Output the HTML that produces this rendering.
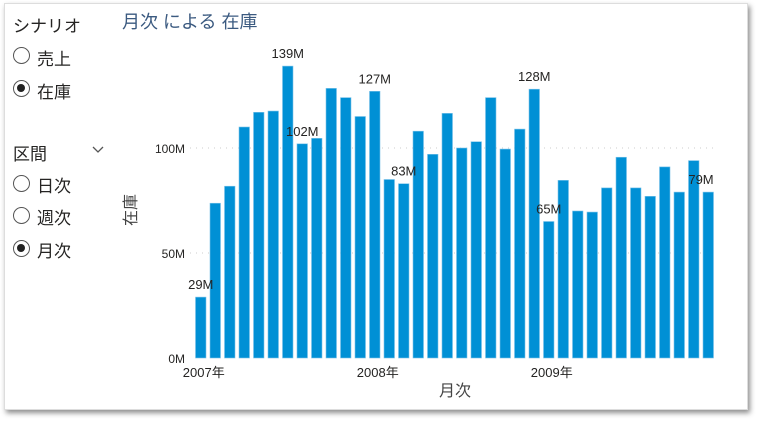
<!DOCTYPE html>
<html><head><meta charset="utf-8"><style>
body{margin:0;width:761px;height:423px;background:#fff;font-family:"Liberation Sans","Noto Sans CJK JP",sans-serif;overflow:hidden;position:relative}
.frame{position:absolute;left:4px;top:3px;width:742px;height:405px;background:#fff;box-shadow:2px 3px 5px rgba(0,0,0,.45);border:1px solid #ddd}
.t{position:absolute;font-size:16px;color:#252423}
.r{position:absolute;width:17px;height:17px;border:1.5px solid #555;border-radius:50%;box-sizing:border-box}
.r.on::after{content:"";position:absolute;left:3px;top:3px;width:8px;height:8px;border-radius:50%;background:#222}
</style></head><body>
<div class="frame"></div>
<div class="t" style="left:13px;top:12px;font-size:17px">シナリオ</div>
<div class="r" style="left:13px;top:47px"></div>
<div class="t" style="left:37px;top:45px;font-size:17px">売上</div>
<div class="r on" style="left:13px;top:80px"></div>
<div class="t" style="left:37px;top:78px;font-size:17px">在庫</div>
<div class="t" style="left:13px;top:140px;font-size:17px">区間</div>
<svg style="position:absolute;left:92px;top:146px" width="12" height="8"><path d="M1 1 L6 6 L11 1" fill="none" stroke="#555" stroke-width="1.3"/></svg>
<div class="r" style="left:13px;top:175px"></div>
<div class="t" style="left:37px;top:172px;font-size:17px">日次</div>
<div class="r" style="left:13px;top:207px"></div>
<div class="t" style="left:37px;top:204px;font-size:17px">週次</div>
<div class="r on" style="left:13px;top:240px"></div>
<div class="t" style="left:37px;top:237px;font-size:17px">月次</div>
<div class="t" style="left:122px;top:8px;font-size:18px;color:#3b5a80">月次 による 在庫</div>
<svg id="c" style="position:absolute;left:0;top:0" width="761" height="423"></svg>
<script>
const values=[29,73.7,81.8,110,117,117.6,139,102,104.6,128.4,124,115,127,85,83,108,97,116.5,100,103,124,99.5,109,128,65,84.6,70,69.5,81,95.6,81,77,91,79,94,79];
const labelIdx=[0,6,7,12,14,23,24,35];
const yTicks=[0,50,100];
const yTickLabels=["0M","50M","100M"];
const xLabels=[{i:0,t:"2007年"},{i:12,t:"2008年"},{i:24,t:"2009年"}];
const svg=document.getElementById('c');const NS="http://www.w3.org/2000/svg";
const x0=195.5,band=14.5,bw=10.5,yBase=358,k=2.1,right=713;
const y=v=>yBase-v*k, x=i=>x0+i*band;
function el(t,a,txt){const e=document.createElementNS(NS,t);for(const q in a)e.setAttribute(q,a[q]);if(txt!=null)e.textContent=txt;svg.appendChild(e);return e;}
yTicks.forEach((v,j)=>{
 if(v>0){const g=el('line',{x1:190,x2:right,y1:y(v),y2:y(v),stroke:'#ccc','stroke-dasharray':'1 5'});
 
 }
 const t=el('text',{x:185,y:y(v)+5,'text-anchor':'end','font-size':12,fill:'#252423'},yTickLabels[j]);
 
 
});
values.forEach((v,i)=>{
 const r=el('rect',{x:x(i),y:y(v),width:bw,height:v*k,fill:'#0090d5',stroke:'#7cc4ea','stroke-width':0.6});
 
 
});
labelIdx.forEach(i=>{
 let cx=x(i)+bw/2;const w=28;if(cx+w/2>right)cx=right-w/2+2;
 const t=el('text',{x:cx,y:y(values[i])-8,'text-anchor':'middle','font-size':13,fill:'#252423'},Math.round(values[i])+'M');
 
 
});
xLabels.forEach(o=>{
 const t=el('text',{x:x(o.i)+bw/2+3,y:377,'text-anchor':'middle','font-size':13,fill:'#252423'},o.t);
 
 
});
const xt=el('text',{x:455,y:396,'text-anchor':'middle','font-size':16,fill:'#444'},'月次');


const yt=el('text',{x:0,y:0,'text-anchor':'middle','font-size':16,fill:'#444',transform:'translate(136,210) rotate(-90)'},'在庫');


</script>
</body></html>
